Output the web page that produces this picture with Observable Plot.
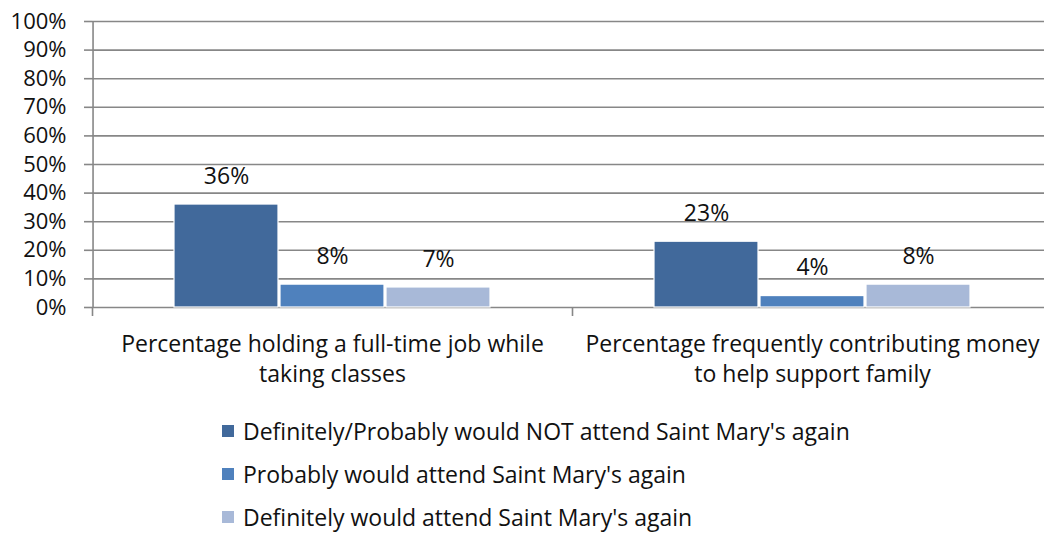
<!DOCTYPE html>
<html><head><meta charset="utf-8">
<script src="https://cdn.jsdelivr.net/npm/d3@7"></script>
<script src="https://cdn.jsdelivr.net/npm/@observablehq/plot@0.6"></script>
<style>
html,body{margin:0;padding:0;background:#fff;overflow:hidden;}
#wrap{position:relative;width:1044px;height:540px;overflow:hidden;font-family:"Open Sans",sans-serif;color:#111;}
#chart svg{display:block;max-width:none !important;}
#legend{position:absolute;left:222px;top:416px;}
.row{height:43px;line-height:30px;display:flex;align-items:flex-start;font-size:23px;white-space:nowrap;}
.sw{width:12px;height:12px;margin-top:9px;margin-right:9px;flex:none;}
</style></head><body>
<div id="wrap"><div id="chart"></div><div id="legend"></div></div>
<script>
const categories = [
  "Percentage holding a full-time job while\ntaking classes",
  "Percentage frequently contributing money\nto help support family"
];
const seriesNames = [
  "Definitely/Probably would NOT attend Saint Mary's again",
  "Probably would attend Saint Mary's again",
  "Definitely would attend Saint Mary's again"
];
const wouldNotAttend = [36, 23];
const probablyAttend = [8, 4];
const definitelyAttend = [7, 8];
const colors = ["#41699b", "#4f81bd", "#a8b9d8"];
const yTicks = [0, 10, 20, 30, 40, 50, 60, 70, 80, 90, 100];

const seriesValues = [wouldNotAttend, probablyAttend, definitelyAttend];
const data = categories.flatMap((c, i) => seriesNames.map((s, j) => ({cat: c, series: s, value: seriesValues[j][i]})));

const W = 1052, H = 400, ML = 92, MR = 0, MT = 21, MB = 93;
const facetW = (W - ML - MR) / categories.length;
const half = facetW / 2;
const PI = 0.015, PO = 0.76;
const step = facetW / (seriesNames.length - PI + 2 * PO);
const axisOffset = PO * step + step * (1 - PI) / 2;
const gray = "#878787";

const plot = Plot.plot({
  width: W, height: H,
  marginLeft: ML, marginRight: MR, marginTop: MT, marginBottom: MB,
  style: {fontFamily: "Open Sans, sans-serif", fontSize: "23px", color: "#111", background: "#fff", overflow: "visible", maxWidth: "none"},
  fx: {domain: categories, padding: 0, label: null, axis: null},
  x: {domain: seriesNames, paddingInner: PI, paddingOuter: PO, axis: null},
  y: {domain: [0, 100], label: null},
  color: {domain: seriesNames, range: colors},
  marks: [
    Plot.gridY(yTicks, {stroke: gray, strokeOpacity: 1, strokeWidth: 1.6}),
    Plot.axisY(yTicks, {tickFormat: d => d + "%", tickSize: 8, tickPadding: 18, stroke: gray, strokeWidth: 1.6, strokeOpacity: 1, fontSize: 22, label: null, fill: "#111"}),
    Plot.ruleX([{cat: categories[0], s: seriesNames[0]}], {fx: "cat", x: "s", y1: 0, y2: 100, dx: -axisOffset, stroke: gray, strokeWidth: 1.6}),
    Plot.barY(data, {fx: "cat", x: "series", y: "value", fill: "series", stroke: "#fff", strokeWidth: 1.2}),
    Plot.text(data, {fx: "cat", x: "series", y: "value", text: d => d.value + "%", dy: -28, fontSize: 23, fill: "#111"}),
    Plot.axisFx({anchor: "bottom", tickSize: 0, tickPadding: 23, lineHeight: 1.3, fontSize: 23, label: null, fill: "#111"}),
    Plot.axisFx({anchor: "bottom", tickSize: 9, tickFormat: () => "", dx: -half, stroke: gray, strokeWidth: 1.6, strokeOpacity: 1, label: null})
  ]
});
document.getElementById("chart").appendChild(plot);

const legend = document.getElementById("legend");
seriesNames.forEach((s, i) => {
  const row = document.createElement("div");
  row.className = "row";
  const sw = document.createElement("span");
  sw.className = "sw";
  sw.style.background = colors[i];
  const t = document.createElement("span");
  t.textContent = s;
  row.appendChild(sw); row.appendChild(t);
  legend.appendChild(row);
});
</script>
</body></html>
